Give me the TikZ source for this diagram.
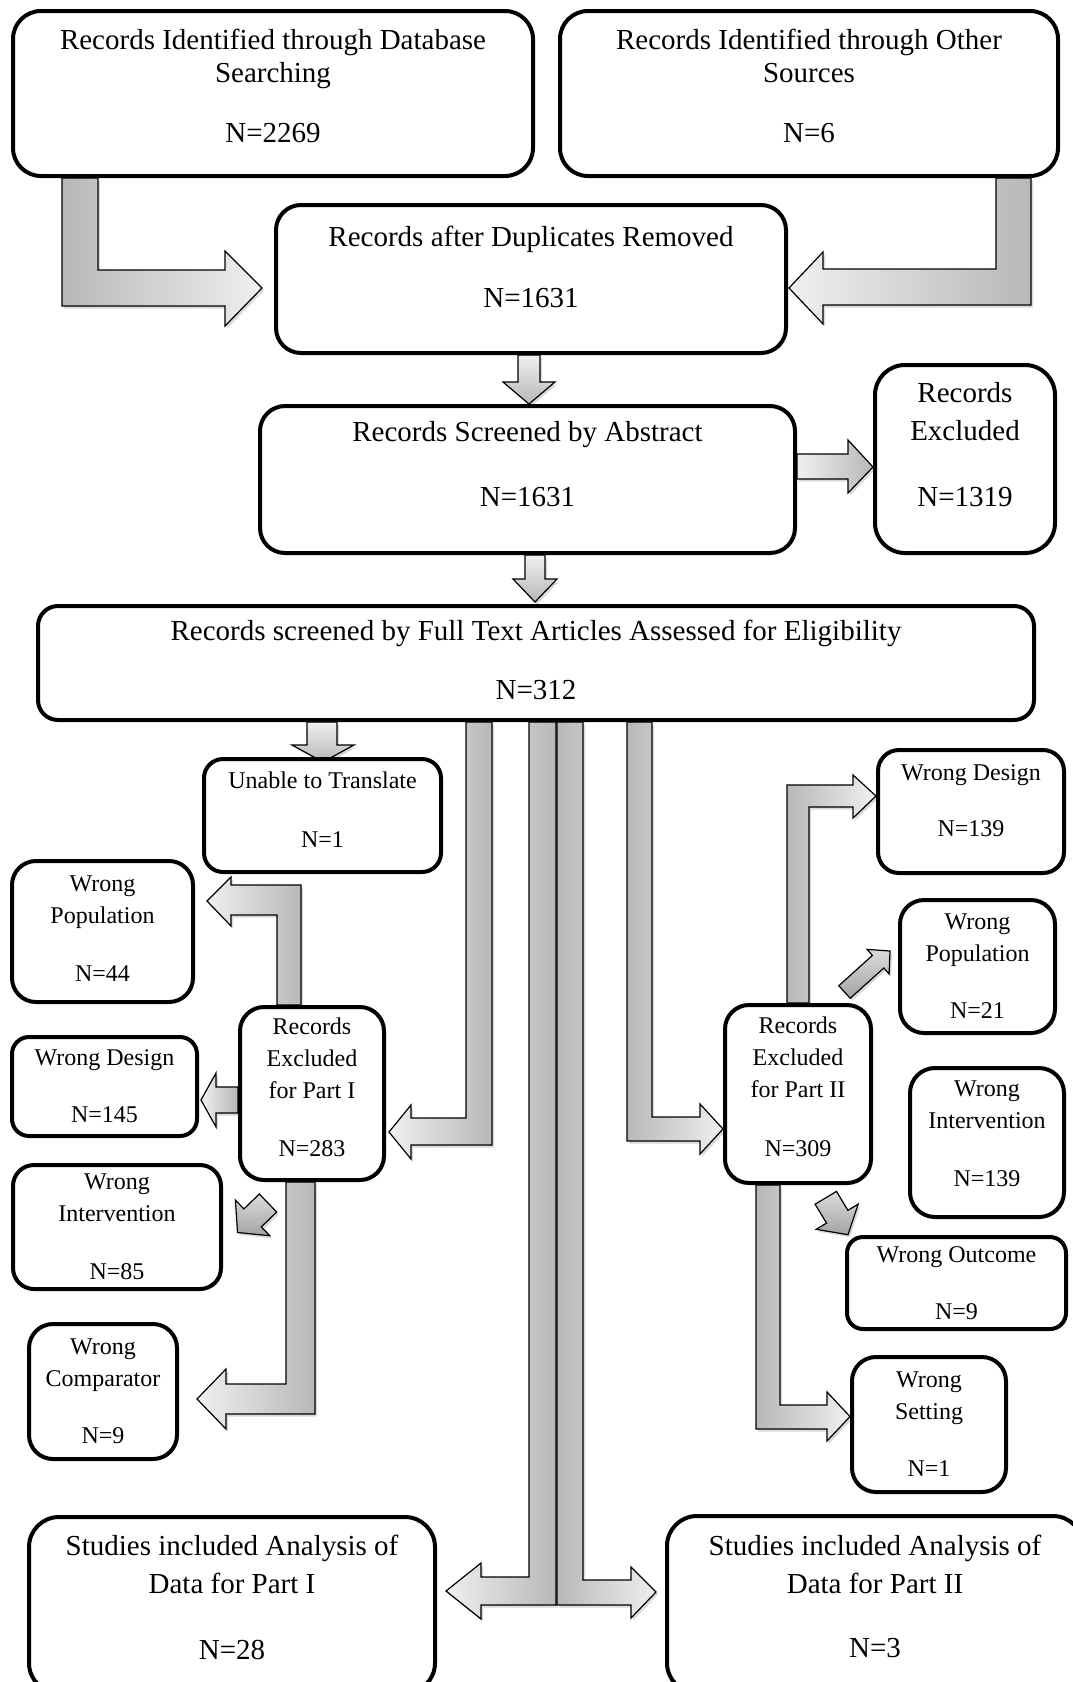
\documentclass[tikz,border=0pt]{standalone}
\usepackage{fontspec}
\setmainfont{Liberation Serif}
\usepackage{tikz}
\usetikzlibrary{shadows,calc}
\pgfdeclarelayer{background}
\pgfsetlayers{background,main}
\definecolor{darkfill}{gray}{0.72}
\definecolor{lightfill}{gray}{0.94}
\tikzset{
	bigbox/.style={draw, line width=4pt, rounded corners=#1, fill=white, align=center, inner sep=0pt, font=\fontsize{29}{33}\selectfont},
	smallbox/.style={draw, line width=4pt, rounded corners=#1, fill=white, align=center, inner sep=0pt, font=\fontsize{24}{32}\selectfont},
	blk/.style={draw=black, line width=1.2pt, line join=miter, drop shadow={shadow xshift=2pt, shadow yshift=-2.5pt, opacity=0.3}},
	diag/.style={blk, top color=black!14, bottom color=black!36}
}
\begin{document}
\begin{tikzpicture}[x=1pt, y=-1pt]
	\useasboundingbox (0,0) rectangle (1073,1682);
	\clip (0,0) rectangle (1073,1682);

	\node[bigbox=28pt, minimum width=520, minimum height=165, text depth=16pt] (db) at (273,93.5) {Records Identified through Database\\Searching\\[27pt]N=2269};
	\node[bigbox=28pt, minimum width=498, minimum height=165, text depth=16pt] (other) at (809,93.5) {Records Identified through Other\\Sources\\[27pt]N=6};
	\node[bigbox=25pt, minimum width=510, minimum height=148, text depth=25pt] (dup) at (531,279) {Records after Duplicates Removed\\[28pt]N=1631};
	\node[bigbox=25pt, minimum width=535, minimum height=147, text depth=32pt] (scr) at (527.5,479.5) {Records Screened by Abstract\\[32pt]N=1631};
	\node[bigbox=30pt, minimum width=180, minimum height=188, text depth=30pt] (excl) at (965,459) {Records\\[5pt]Excluded\\[33pt]N=1319};
	\node[bigbox=20pt, minimum width=996, minimum height=114, text depth=7pt] (full) at (536,663) {Records screened by Full Text Articles Assessed for Eligibility\\[26pt]N=312};

	\node[smallbox=19pt, minimum width=237, minimum height=113, text depth=12pt] (unable) at (322.5,815.5) {Unable to Translate\\[27pt]N=1};
	\node[smallbox=24pt, minimum width=181, minimum height=141, text depth=5pt] (wpopl) at (102.5,931.5) {Wrong\\Population\\[26pt]N=44};
	\node[smallbox=17pt, minimum width=185, minimum height=99] (wdesl) at (104.5,1086.5) {Wrong Design\\[25pt]N=145};
	\node[smallbox=24pt, minimum width=144, minimum height=173, text depth=12pt] (exclA) at (312,1093.5) {Records\\Excluded\\for Part I\\[26pt]N=283};
	\node[smallbox=21pt, minimum width=208, minimum height=124] (wintl) at (117,1227) {Wrong\\Intervention\\[26pt]N=85};
	\node[smallbox=24pt, minimum width=148, minimum height=135] (wcomp) at (103,1391.5) {Wrong\\Comparator\\[25pt]N=9};
	\node[bigbox=30pt, minimum width=406, minimum height=176, text depth=16pt] (studA) at (232,1605) {Studies included Analysis of\\[5pt]Data for Part I\\[33pt]N=28};

	\node[smallbox=21pt, minimum width=186, minimum height=123, text depth=21pt] (wdesr) at (971,811.5) {Wrong Design\\[24pt]N=139};
	\node[smallbox=24pt, minimum width=155, minimum height=133] (wpopr) at (977.5,966.5) {Wrong\\Population\\[25pt]N=21};
	\node[smallbox=24pt, minimum width=146, minimum height=178, text depth=15pt] (exclB) at (798,1094) {Records\\Excluded\\for Part II\\[27pt]N=309};
	\node[smallbox=25pt, minimum width=154, minimum height=149, text depth=17pt] (wintr) at (987,1142.5) {Wrong\\Intervention\\[26pt]N=139};
	\node[smallbox=16pt, minimum width=219, minimum height=92] (wout) at (956.5,1283) {Wrong Outcome\\[25pt]N=9};
	\node[smallbox=24pt, minimum width=154, minimum height=135] (wset) at (929,1424.5) {Wrong\\Setting\\[25pt]N=1};
	\node[bigbox=30pt, minimum width=416, minimum height=177, text depth=17pt] (studB) at (875,1604.5) {Studies included Analysis of\\[5pt]Data for Part II\\[31pt]N=3};

	\begin{pgfonlayer}{background}
		\draw[blk, left color=darkfill, right color=lightfill] ([shift={(-211,0)}]db.south) -- +(36,0) -- +(36,92) -- +(163,92) -- +(163,73) -- +(200,110) -- +(163,148) -- +(163,128) -- +(0,128) -- cycle;
		\draw[blk, left color=lightfill, right color=darkfill] ([shift={(222,0)}]other.south) -- +(-35,0) -- +(-35,91) -- +(-208,91) -- +(-208,74) -- +(-242,110) -- +(-208,146) -- +(-208,127) -- +(0,127) -- cycle;
		\draw[blk, top color=lightfill, bottom color=darkfill] ([shift={(-13,0)}]dup.south) -- +(22,0) -- +(22,27) -- +(37,27) -- +(11,49) -- +(-15,27) -- +(0,27) -- cycle;
		\draw[blk, left color=lightfill, right color=darkfill] ([shift={(0,-25.5)}]scr.east) -- +(51,0) -- +(51,-14) -- +(76,13) -- +(51,39) -- +(51,25) -- +(0,25) -- cycle;
		\draw[blk, top color=lightfill, bottom color=darkfill] ([shift={(-2.5,0)}]scr.south) -- +(20,0) -- +(20,24) -- +(32,24) -- +(10,47) -- +(-12,24) -- +(0,24) -- cycle;

		\draw[blk, top color=lightfill, bottom color=darkfill] ([shift={(-229,0)}]full.south) -- +(30,0) -- +(30,23) -- +(47,23) -- +(16,40) -- +(-15,23) -- +(0,23) -- cycle;
		\draw[blk, left color=lightfill, right color=darkfill] ([shift={(-44,0)}]full.south) -- +(-26,0) -- +(-26,396) -- +(-81,396) -- +(-81,383) -- +(-103,410) -- +(-81,437) -- +(-81,423) -- +(0,423) -- cycle;
		\draw[blk, left color=darkfill, right color=lightfill] ([shift={(91,0)}]full.south) -- +(25,0) -- +(25,395) -- +(73,395) -- +(73,382) -- +(96,407) -- +(73,432) -- +(73,419) -- +(0,419) -- cycle;
		\draw[blk, left color=lightfill, right color=darkfill] ([shift={(20,0)}]full.south) -- +(-27,0) -- +(-27,855) -- +(-75,855) -- +(-75,841) -- +(-110,869) -- +(-75,897) -- +(-75,883) -- +(0,883) -- cycle;
		\draw[blk, left color=darkfill, right color=lightfill] ([shift={(21,0)}]full.south) -- +(26,0) -- +(26,858) -- +(74,858) -- +(74,845) -- +(99,870) -- +(74,896) -- +(74,883) -- +(0,883) -- cycle;

		\draw[blk, left color=lightfill, right color=darkfill] ([shift={(-11,0)}]exclA.north) -- +(-24,0) -- +(-24,-90) -- +(-70,-90) -- +(-70,-79) -- +(-94,-104) -- +(-70,-128) -- +(-70,-120) -- +(0,-120) -- cycle;
		\draw[blk, left color=lightfill, right color=darkfill] ([shift={(0,-6.5)}]exclA.west) -- +(-22,0) -- +(-22,-14) -- +(-37,13) -- +(-22,40) -- +(-22,26) -- +(0,26) -- cycle;
		\draw[diag] ([shift={(-52.7,12)}]exclA.south) -- +(17.4,18) -- +(2,32.9) -- +(10.5,41.7) -- +(-21.8,38.5) -- +(-23.9,6.1) -- +(-15.4,14.9) -- cycle;
		\draw[blk, left color=lightfill, right color=darkfill] ([shift={(3,0)}]exclA.south) -- +(-29,0) -- +(-29,202) -- +(-89,202) -- +(-89,187) -- +(-118,217) -- +(-89,247) -- +(-89,232) -- +(0,232) -- cycle;

		\draw[blk, left color=darkfill, right color=lightfill] ([shift={(-11,0)}]exclB.north) -- +(22,0) -- +(22,-196) -- +(66,-196) -- +(66,-185) -- +(89,-207) -- +(66,-228) -- +(66,-218) -- +(0,-218) -- cycle;
		\draw[diag] ([shift={(-34.2,-17.3)}]exclB.north east) -- +(33.6,-30.3) -- +(28.3,-36.3) -- +(51.2,-34.7) -- +(50.3,-11.7) -- +(45,-17.7) -- +(11.4,12.6) -- cycle;
		\draw[diag] ([shift={(-36.5,6.4)}]exclB.south east) -- +(11.4,18.9) -- +(21.7,12.7) -- +(11.5,43.3) -- +(-20.3,37.9) -- +(-10,31.7) -- +(-21.4,12.8) -- cycle;
		\draw[blk, left color=darkfill, right color=lightfill] ([shift={(-42,0)}]exclB.south) -- +(24,0) -- +(24,220) -- +(71,220) -- +(71,207) -- +(94,231.5) -- +(71,256) -- +(71,244) -- +(0,244) -- cycle;
	\end{pgfonlayer}
\end{tikzpicture}
\end{document}
